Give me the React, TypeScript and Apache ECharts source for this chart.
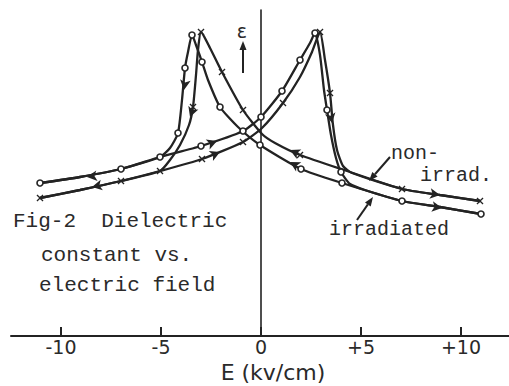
import React, { useEffect, useRef } from 'react';
import * as echarts from 'echarts';

// E in kV/cm, epsilon in arbitrary units
const tickValues = [-10, -5, 0, 5, 10];

const irradiatedDecreasing: [number, number][] = [
  [11.0, 12.2], [8.95, 12.9], [7.05, 13.5], [4.05, 15.3], [2.0, 16.7], [-0.05, 19.1],
  [-1.15, 20.9], [-2.05, 22.9], [-2.65, 25.6], [-2.95, 27.4], [-3.25, 29.1], [-3.45, 30.1],
  [-3.65, 28.4], [-3.8, 26.8], [-3.95, 23.6], [-4.15, 20.3], [-4.55, 18.8], [-5.05, 17.9],
  [-7.0, 16.7], [-9.05, 15.9], [-11.05, 15.3],
];
const irradiatedIncreasing: [number, number][] = [
  [-11.05, 15.3], [-9.05, 15.9], [-7.0, 16.7], [-5.05, 17.9], [-3.0, 19.0], [-0.9, 20.5],
  [0, 21.9], [1.05, 24.5], [1.95, 27.6], [2.45, 29.3], [2.7, 30.3], [2.95, 28.1],
  [3.15, 24.6], [3.3, 22.6], [3.5, 20.1], [3.75, 17.8], [4.0, 16.4], [4.45, 15.2],
  [5.2, 14.6], [7.05, 13.5], [8.95, 12.9], [11.0, 12.2],
];
const nonIrradiatedDecreasing: [number, number][] = [
  [10.95, 13.5], [8.95, 14.1], [7.05, 14.7], [4.3, 16.5], [1.95, 18.1], [0.7, 19.3],
  [0.05, 20.2], [-0.9, 22.6], [-1.95, 26.4], [-2.55, 28.8], [-3.0, 30.4], [-3.15, 28.6],
  [-3.25, 26.1], [-3.4, 22.9], [-3.6, 21.1], [-4.05, 19.1], [-4.55, 17.6], [-5.05, 16.5],
  [-7.0, 15.5], [-9.05, 14.6], [-11.05, 13.8],
];
const nonIrradiatedIncreasing: [number, number][] = [
  [-11.05, 13.8], [-9.05, 14.6], [-7.0, 15.5], [-5.05, 16.5], [-2.95, 17.7], [-0.9, 19.4],
  [0.05, 20.8], [1.1, 23.3], [1.95, 25.9], [2.55, 28.4], [2.95, 30.4], [3.2, 27.6],
  [3.45, 24.3], [3.6, 21.1], [3.8, 18.6], [4.1, 17.0], [4.55, 16.3], [7.05, 14.7],
  [8.95, 14.1], [10.95, 13.5],
];

const irradiatedPoints: [number, number][] = [
  [-11.05, 15.3], [-7.0, 16.7], [-5.05, 17.9], [-4.15, 20.3], [-3.8, 26.8], [-3.45, 30.1],
  [-2.95, 27.4], [-2.05, 22.9], [-3.0, 19.0], [-0.9, 20.5], [0, 21.9], [1.05, 24.5],
  [1.95, 27.6], [2.7, 30.3], [3.3, 22.6], [4.0, 16.4], [-0.05, 19.1], [2.0, 16.7],
  [4.05, 15.3], [7.05, 13.5], [11.0, 12.2],
];
const nonIrradiatedPoints: [number, number][] = [
  [-11.05, 13.8], [-7.0, 15.5], [-5.05, 16.5], [-2.95, 17.7], [-0.9, 19.4], [1.1, 23.3],
  [2.95, 30.4], [3.45, 24.3], [-3.0, 30.4], [-1.95, 26.4], [-0.9, 22.6], [-3.4, 22.9],
  [1.95, 18.1], [7.05, 14.7], [10.95, 13.5],
];

// direction arrows on the curves: [E, eps, towardE, towardEps]
const directionArrows: [number, number, number, number][] = [
  [-8.7, 15.9, -11.05, 15.3],
  [-8.45, 14.9, -11.05, 13.8],
  [-2.2, 19.5, -0.9, 20.5],
  [-2.05, 18.4, -0.9, 19.4],
  [-3.85, 24.6, -4.15, 20.3],
  [-3.55, 21.9, -4.05, 19.1],
  [1.45, 18.6, 0.7, 19.3],
  [1.45, 17.4, -0.05, 19.1],
  [8.95, 14.1, 10.95, 13.5],
  [9.05, 12.8, 11.0, 12.2],
  [3.55, 21.3, 3.8, 18.6],
];

const X_MIN = -12.5;
const X_MAX = 12.4;
const Y_MIN = 0;
const Y_MAX = 32.6;
const GRID = { left: 11, right: 0, top: 10, bottom: 50 };
const W = 509;
const H = 386;

const INK = '#232323';
const X_SHAPE =
  'path://M0,1.3L1.3,0L5,3.7L8.7,0L10,1.3L6.3,5L10,8.7L8.7,10L5,6.3L1.3,10L0,8.7L3.7,5Z';

export default function App() {
  const ref = useRef<HTMLDivElement>(null);
  useEffect(() => {
    if (!ref.current) return;
    document.body.style.margin = '0';
    const chart = echarts.init(ref.current, undefined, { renderer: 'svg' });
    const pxE = (W - GRID.left - GRID.right) / (X_MAX - X_MIN);
    const pxEps = (H - GRID.top - GRID.bottom) / (Y_MAX - Y_MIN);
    const arrowData = directionArrows.map(([e, v, te, tv]) => {
      const dx = (te - e) * pxE;
      const dy = (tv - v) * pxEps;
      const rot = (Math.atan2(-dx, dy) * 180) / Math.PI;
      return { value: [e, v], symbolRotate: rot };
    });
    const lineSeries = (data: [number, number][]) => ({
      type: 'line',
      data,
      smooth: 0.2,
      symbol: 'none',
      lineStyle: { color: INK, width: 2.3 },
      z: 2,
    });
    const mono = '"Liberation Mono", "DejaVu Sans Mono", monospace';
    const txt = (text: string, x: number, y: number, size = 21) => ({
      type: 'text',
      x,
      y,
      style: { text, font: `${size}px ${mono}`, fill: '#2a2a2a', textVerticalAlign: 'middle' },
    });
    const arrowHead = (x1: number, y1: number, x2: number, y2: number) => {
      const a = Math.atan2(y2 - y1, x2 - x1);
      const len = 9, half = 3.5;
      const bx = x2 - len * Math.cos(a), by = y2 - len * Math.sin(a);
      return [
        { type: 'line', shape: { x1, y1, x2: bx, y2: by }, style: { stroke: INK, lineWidth: 2 } },
        {
          type: 'polygon',
          shape: {
            points: [
              [x2, y2],
              [bx - half * Math.sin(a), by + half * Math.cos(a)],
              [bx + half * Math.sin(a), by - half * Math.cos(a)],
            ],
          },
          style: { fill: INK },
        },
      ];
    };
    chart.setOption({
      animation: false,
      backgroundColor: '#fff',
      grid: GRID,
      xAxis: {
        type: 'value',
        min: X_MIN,
        max: X_MAX,
        splitLine: { show: false },
        axisLine: { show: true, onZero: false, lineStyle: { color: INK, width: 2 } },
        axisTick: {
          show: true,
          inside: true,
          length: 9,
          customValues: tickValues,
          lineStyle: { color: INK, width: 2 },
        },
        axisLabel: {
          customValues: tickValues,
          formatter: (v: number) => (v > 0 ? '+' + v : String(v)),
          fontSize: 19,
          fontFamily: '"DejaVu Sans", sans-serif',
          color: '#2a2a2a',
          margin: 1,
        },
      },
      yAxis: {
        type: 'value',
        min: Y_MIN,
        max: Y_MAX,
        splitLine: { show: false },
        axisLine: { show: true, onZero: true, lineStyle: { color: INK, width: 1.6 } },
        axisTick: { show: false },
        axisLabel: { show: false },
      },
      series: [
        lineSeries(irradiatedDecreasing),
        lineSeries(irradiatedIncreasing),
        lineSeries(nonIrradiatedDecreasing),
        lineSeries(nonIrradiatedIncreasing),
        {
          type: 'scatter',
          data: irradiatedPoints,
          symbol: 'circle',
          symbolSize: 6,
          itemStyle: { color: '#fff', borderColor: INK, borderWidth: 1.6, opacity: 1 },
          z: 4,
        },
        {
          type: 'scatter',
          data: nonIrradiatedPoints,
          symbol: X_SHAPE,
          symbolSize: 7,
          itemStyle: { color: INK, opacity: 1 },
          z: 4,
        },
        {
          type: 'scatter',
          data: arrowData,
          symbol: 'arrow',
          symbolSize: [8, 10],
          itemStyle: { color: INK, opacity: 1 },
          z: 3,
        },
      ],
      graphic: [
        {
          type: 'text',
          x: 242,
          y: 31,
          style: {
            text: 'ε',
            font: '19px "DejaVu Sans", sans-serif',
            fill: '#2a2a2a',
            textAlign: 'center',
            textVerticalAlign: 'middle',
          },
        },
        ...arrowHead(243, 73, 243, 41),
        txt('Fig-2  Dielectric', 13, 221),
        txt('constant vs.', 41, 255),
        txt('electric field', 39, 285),
        txt('non-', 391, 153, 20),
        txt('irrad.', 420, 175, 20),
        txt('irradiated', 329, 229, 20),
        ...arrowHead(390, 157, 369, 181),
        ...arrowHead(357, 220, 373, 197),
        {
          type: 'text',
          x: 273,
          y: 372,
          style: {
            text: 'E (kv/cm)',
            font: '22px "DejaVu Sans", sans-serif',
            fill: '#2a2a2a',
            textAlign: 'center',
            textVerticalAlign: 'middle',
          },
        },
      ],
    });
    return () => chart.dispose();
  }, []);
  return (
    <div
      ref={ref}
      style={{ width: W, height: H, position: 'fixed', left: 0, top: 0 }}
    />
  );
}
